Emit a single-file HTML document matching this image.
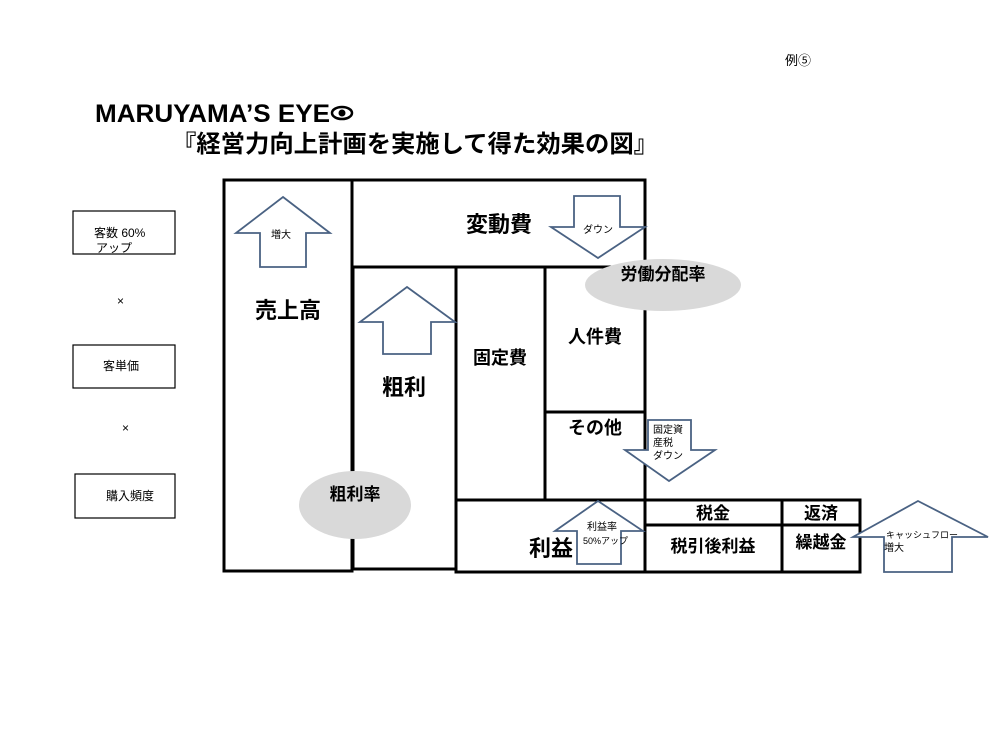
<!DOCTYPE html>
<html><head><meta charset="utf-8"><style>
html,body{margin:0;padding:0;background:#fff;}
svg{display:block;font-family:"Liberation Sans","Noto Sans CJK JP",sans-serif;}
</style></head><body>
<svg width="1000" height="750" viewBox="0 0 1000 750" xmlns="http://www.w3.org/2000/svg">
<rect width="1000" height="750" fill="#fff"/>
<text x="785" y="65" font-size="13">例⑤</text>
<text x="95" y="122" font-size="25" font-weight="bold" textLength="235" lengthAdjust="spacingAndGlyphs">MARUYAMA’S EYE</text>
<ellipse cx="342" cy="113" rx="10" ry="6" fill="#fff" stroke="#000" stroke-width="2.5"/><circle cx="342" cy="113" r="3.5" fill="#000"/>
<text x="172" y="152" font-size="24" font-weight="bold" textLength="486" lengthAdjust="spacingAndGlyphs">『経営力向上計画を実施して得た効果の図』</text>

<g fill="none" stroke="#000" stroke-width="3">
<rect x="224" y="180" width="128" height="391"/>
<rect x="352" y="180" width="293" height="87"/>
<rect x="353" y="267" width="103" height="302"/>
<rect x="456" y="267" width="89" height="233"/>
<rect x="545" y="267" width="100" height="145"/>
<rect x="545" y="412" width="100" height="88"/>
<rect x="456" y="500" width="189" height="72"/>
<rect x="645" y="500" width="137" height="25"/>
<rect x="645" y="525" width="137" height="47"/>
<rect x="782" y="500" width="78" height="25"/>
<rect x="782" y="525" width="78" height="47"/>
</g>
<g fill="none" stroke="#000" stroke-width="1.2">
<rect x="73" y="211" width="102" height="43"/>
<rect x="73" y="345" width="102" height="43"/>
<rect x="75" y="474" width="100" height="44"/>
</g>
<g font-size="12">
<text x="94" y="237">客数  60%</text>
<text x="96" y="252">アップ</text>
<text x="117" y="305">×</text>
<text x="103" y="370">客単価</text>
<text x="122" y="432">×</text>
<text x="106" y="500">購入頻度</text>
</g>

<ellipse cx="663" cy="285" rx="78" ry="26" fill="#d9d9d9"/>
<ellipse cx="355" cy="505" rx="56" ry="34" fill="#d9d9d9"/>

<g fill="#fff" stroke="#4a6283" stroke-width="1.8">
<path d="M283,197 L330,233 L306,233 L306,267 L260,267 L260,233 L236,233 Z"/>
<path d="M407,287 L455,322 L431,322 L431,354 L383,354 L383,322 L360,322 Z"/>
<path d="M574,196 L620,196 L620,227 L645,227 L598,258 L551,227 L574,227 Z"/>
<path d="M648,420 L691,420 L691,450 L715,450 L669,481 L625,450 L648,450 Z"/>
<path d="M598,501 L643,531 L621,531 L621,564 L577,564 L577,531 L555,531 Z"/>
<path d="M918,501 L988,537 L952,537 L952,572 L884,572 L884,537 L853,537 Z"/>
</g>

<g font-weight="bold" fill="#000" text-anchor="middle">
<text x="499" y="232" font-size="22">変動費</text>
<text x="288" y="318" font-size="22">売上高</text>
<text x="404" y="395" font-size="22">粗利</text>
<text x="500" y="364" font-size="18">固定費</text>
<text x="595" y="343" font-size="18">人件費</text>
<text x="595" y="434" font-size="18">その他</text>
<text x="551" y="556" font-size="22">利益</text>
<text x="713" y="519" font-size="17">税金</text>
<text x="713" y="552" font-size="17">税引後利益</text>
<text x="821" y="519" font-size="17">返済</text>
<text x="821" y="548" font-size="17">繰越金</text>
<text x="663" y="280" font-size="17">労働分配率</text>
<text x="355" y="500" font-size="17">粗利率</text>
</g>
<g font-size="10" fill="#000">
<text x="271" y="238">増大</text>
<text x="583" y="233">ダウン</text>
<text x="653" y="433">固定資</text>
<text x="653" y="446">産税</text>
<text x="653" y="459">ダウン</text>
<text x="587" y="530">利益率</text>
<text x="583" y="544" font-size="9">50%アップ</text>
<text x="886" y="538" font-size="9">キャッシュフロー</text>
<text x="884" y="551">増大</text>
</g>
</svg>
</body></html>
